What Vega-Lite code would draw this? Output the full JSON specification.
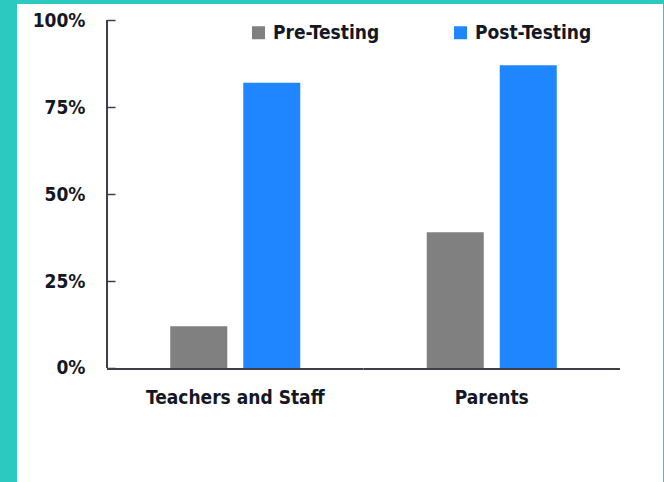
{
  "$schema": "https://vega.github.io/schema/vega-lite/v6.json",
  "width": 646,
  "height": 478,
  "autosize": "none",
  "padding": {"left": 17, "top": 4, "right": 1, "bottom": 0},
  "background": "#2cc9c0",
  "config": {
    "view": {"fill": "white", "stroke": null},
    "axis": {"grid": false, "labelColor": "#141824", "labelFontWeight": "bold", "labelLimit": 0}
  },
  "data": {
    "values": [
      {"group": "Teachers and Staff", "phase": "Pre-Testing", "value": 12},
      {"group": "Teachers and Staff", "phase": "Post-Testing", "value": 82},
      {"group": "Parents", "phase": "Pre-Testing", "value": 39},
      {"group": "Parents", "phase": "Post-Testing", "value": 87}
    ]
  },
  "layer": [
    {
      "mark": {"type": "bar"},
      "encoding": {
        "x": {
          "field": "group", "type": "nominal", "sort": ["Teachers and Staff", "Parents"],
          "scale": {"domain": ["Teachers and Staff", "Parents"], "paddingInner": 0, "paddingOuter": 0.2593, "align": 0.6767},
          "axis": {"orient": "bottom", "offset": -114, "title": null, "domain": false, "ticks": false, "labelPadding": 20, "labelAngle": 0, "labelFont": "DejaVu Sans Condensed", "labelFontSize": 19, "labelBaseline": "top"}
        },
        "xOffset": {
          "field": "phase", "type": "nominal", "sort": ["Pre-Testing", "Post-Testing"],
          "scale": {"paddingInner": 0.219, "paddingOuter": 0.866}
        },
        "y": {
          "field": "value", "type": "quantitative",
          "scale": {"domain": [-32.76, 104.6], "nice": false, "zero": false},
          "axis": {"orient": "left", "offset": -90, "title": null, "domain": false, "values": [0, 25, 50, 75, 100], "labelExpr": "datum.value + '%'", "tickSize": -8, "tickColor": "#3e3e48", "tickWidth": 1.5, "labelPadding": 30, "labelFont": "DejaVu Sans Condensed", "labelFontSize": 19}
        },
        "color": {
          "field": "phase", "type": "nominal", "sort": ["Pre-Testing", "Post-Testing"],
          "scale": {"domain": ["Pre-Testing", "Post-Testing"], "range": ["#808080", "#1f86ff"]},
          "legend": {"title": null, "orient": "none", "legendX": 232, "legendY": 19, "direction": "horizontal", "columns": 2, "columnPadding": 71, "symbolType": "square", "symbolSize": 169, "symbolStrokeWidth": 0, "symbolOpacity": 1, "labelOffset": 5, "labelLimit": 0, "labelFont": "DejaVu Sans Condensed", "labelFontSize": 19, "labelFontWeight": "bold", "labelColor": "#141824", "padding": 0}
        }
      }
    },
    {
      "data": {"values": [{"group": "Teachers and Staff"}]},
      "mark": {"type": "rule", "color": "#3e3e48", "strokeWidth": 2},
      "encoding": {
        "x": {"field": "group", "type": "nominal", "bandPosition": 0},
        "y": {"datum": 0, "type": "quantitative"},
        "y2": {"datum": 100}
      }
    },
    {
      "data": {"values": [{"group": "Teachers and Staff"}, {"group": "Parents"}]},
      "mark": {"type": "bar", "color": "#3e3e48", "width": {"band": 1}},
      "encoding": {
        "x": {"field": "group", "type": "nominal"},
        "y": {"datum": 0, "type": "quantitative"},
        "y2": {"datum": -0.55}
      }
    }
  ]
}
